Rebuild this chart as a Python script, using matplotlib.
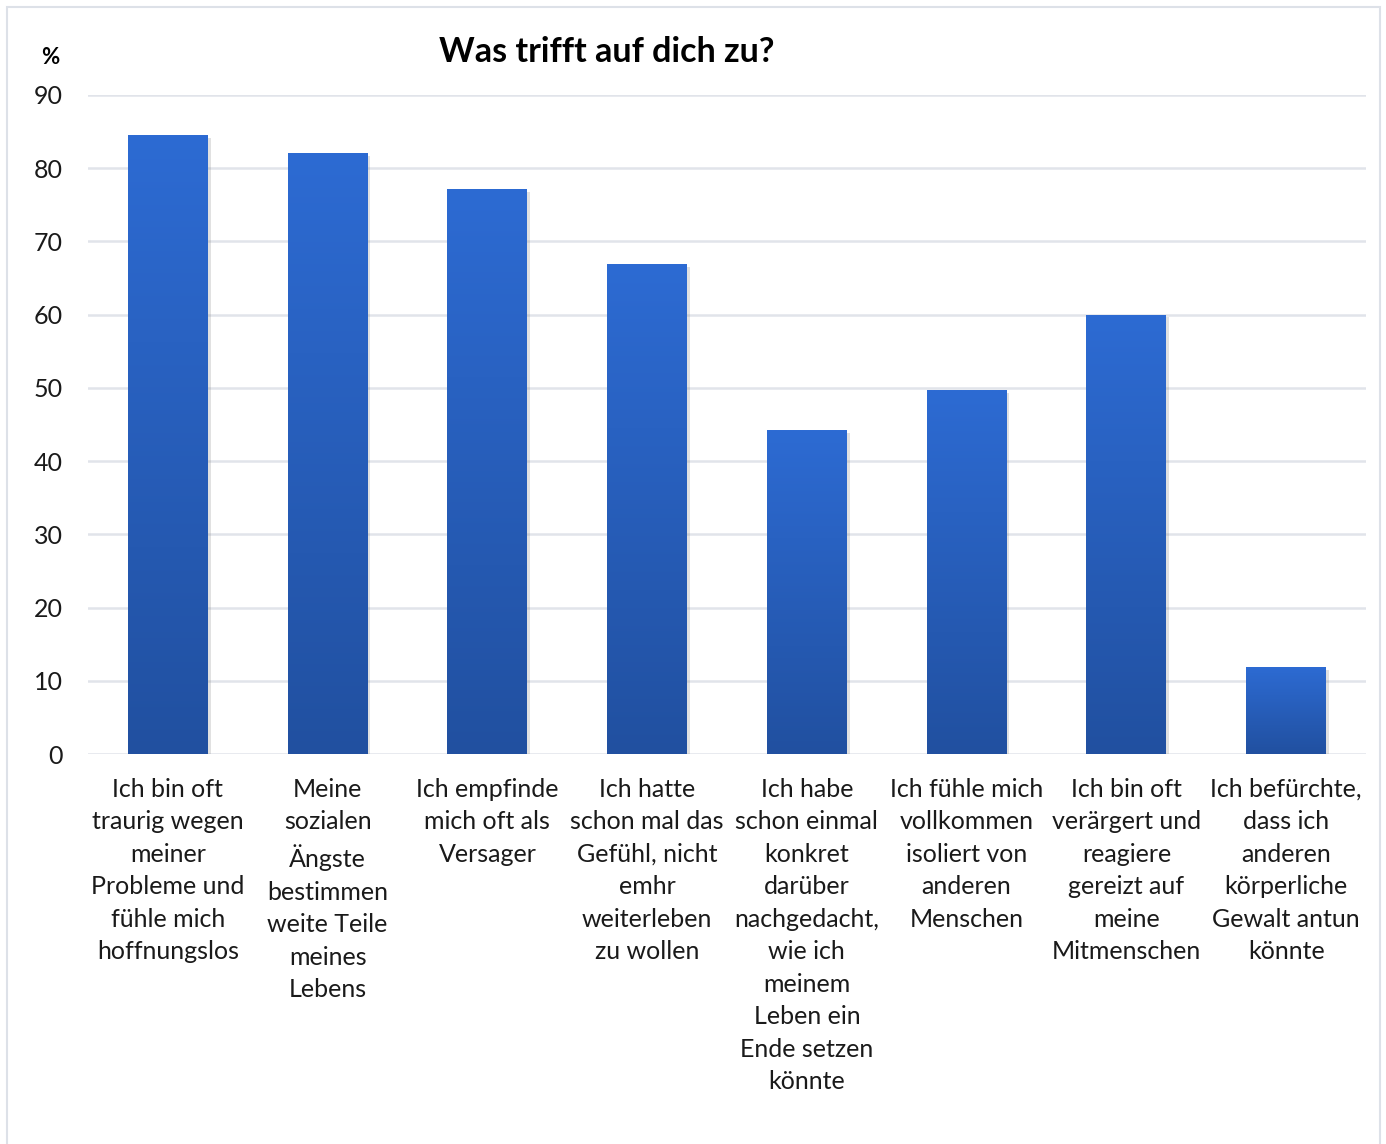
import numpy as np
import matplotlib
matplotlib.use("Agg")
import matplotlib.pyplot as plt
from matplotlib.colors import LinearSegmentedColormap
from matplotlib.patches import Rectangle
import matplotlib.patheffects as pe

plt.rcParams['font.family'] = ['Lato', 'DejaVu Sans']

categories = [
    "Ich bin oft\ntraurig wegen\nmeiner\nProbleme und\nfühle mich\nhoffnungslos",
    "Meine\nsozialen\nÄngste\nbestimmen\nweite Teile\nmeines\nLebens",
    "Ich empfinde\nmich oft als\nVersager",
    "Ich hatte\nschon mal das\nGefühl, nicht\nemhr\nweiterleben\nzu wollen",
    "Ich habe\nschon einmal\nkonkret\ndarüber\nnachgedacht,\nwie ich\nmeinem\nLeben ein\nEnde setzen\nkönnte",
    "Ich fühle mich\nvollkommen\nisoliert von\nanderen\nMenschen",
    "Ich bin oft\nverärgert und\nreagiere\ngereizt auf\nmeine\nMitmenschen",
    "Ich befürchte,\ndass ich\nanderen\nkörperliche\nGewalt antun\nkönnte",
]
values = [84.5, 82.1, 77.2, 66.9, 44.2, 49.7, 60.0, 11.9]
yticks = [0, 10, 20, 30, 40, 50, 60, 70, 80, 90]

W, H = 1386, 1144
fig = plt.figure(figsize=(W / 100, H / 100), dpi=100)
ax = fig.add_axes([88 / W, 1 - 754 / H, (1366 - 88) / W, 659 / H])

# outer frame
fig.patches.append(Rectangle((7 / W, -0.01), (1380 - 7) / W, 1 - 7 / H + 0.01,
                             transform=fig.transFigure, fill=False,
                             edgecolor="#DDE1E8", linewidth=1.5))

cmap = LinearSegmentedColormap.from_list("bar", ["#2150A0", "#2D6BD3"])
grad = np.linspace(0, 1, 256).reshape(-1, 1)
x = np.arange(len(values))
bars = ax.bar(x, values, width=0.5, color="#2A60BE", zorder=3,
              path_effects=[pe.SimplePatchShadow(offset=(2, -2), alpha=0.25, shadow_rgbFace="#888888"),
                            pe.Normal()])
for b in bars:
    x0, y0 = b.get_x(), b.get_y()
    im = ax.imshow(grad, cmap=cmap, origin="lower", aspect="auto",
                   extent=(x0, x0 + b.get_width(), y0, y0 + b.get_height()), zorder=4)
    im.set_clip_path(b)

ax.set_xlim(-0.5, len(values) - 0.5)
ax.set_ylim(0, 90)
ax.set_yticks(yticks)
ax.set_xticks(x)
ax.set_xticklabels(categories, fontsize=18, linespacing=1.5, color="#1a1a1a")
for lbl in ax.get_xticklabels():
    lbl.set_x(lbl.get_position()[0])
ax.tick_params(axis="y", labelsize=18, length=0, pad=18, labelcolor="#1a1a1a")
ax.tick_params(axis="x", length=0, pad=17)
ax.yaxis.grid(True, color="#E1E4EA", linewidth=1.8, zorder=0)
ax.set_axisbelow(True)
for s in ax.spines.values():
    s.set_visible(False)

fig.text(607 / W, 1 - 52 / H, "Was trifft auf dich zu?", ha="center", va="center",
         fontsize=24.5, fontweight="bold")
fig.text(50 / W, 1 - 57 / H, "%", ha="center", va="center", fontsize=16, fontweight="bold")

fig.savefig("out.png", dpi=100)
